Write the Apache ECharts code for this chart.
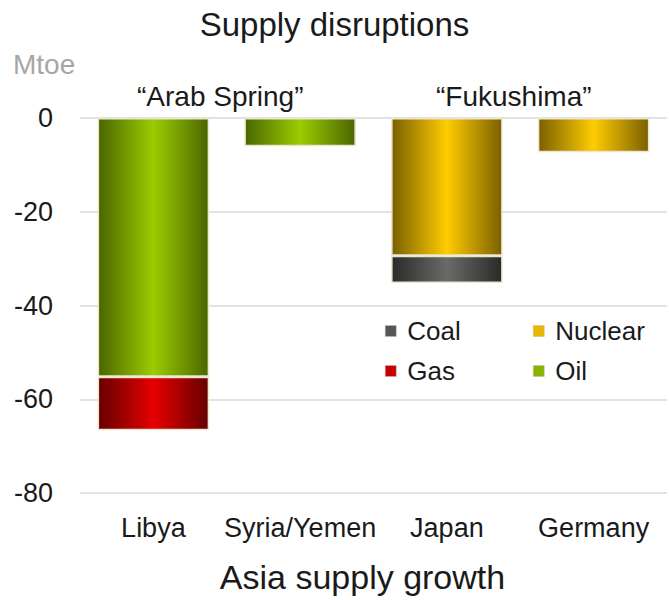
<!DOCTYPE html>
<html>
<head>
<meta charset="utf-8">
<style>
  html, body { margin: 0; padding: 0; background: #fff; }
  #chart { width: 669px; height: 600px; }
</style>
<script src="https://cdn.jsdelivr.net/npm/echarts@6/dist/echarts.min.js"></script>
</head>
<body>
<div id="chart"></div>
<script>
(function () {
  var font = '"Liberation Sans", Arial, sans-serif';
  var ink = '#1a1a1a';
  var rule = '#d9d9d9';

  var categories = ['Libya', 'Syria/Yemen', 'Japan', 'Germany'];
  var oil = [-55.2, -6, null, null];
  var nuclear = [null, null, -29.4, -7.3];
  var gas = [-11.4, null, null, null];
  var coal = [null, null, -5.8, null];
  var yTicks = [-80, -60, -40, -20, 0];

  // horizontal gradient: dark edges, bright middle
  function shade(edge, mid) {
    return new echarts.graphic.LinearGradient(0, 0, 1, 0, [
      { offset: 0, color: edge },
      { offset: 0.5, color: mid },
      { offset: 1, color: edge }
    ]);
  }

  function bar(name, data, edge, mid) {
    return {
      name: name,
      type: 'bar',
      stack: 'total',
      data: data,
      barWidth: '76%',
      itemStyle: { color: shade(edge, mid), borderColor: '#ece6cf', borderWidth: 1.5 }
    };
  }

  function key(name, color) {
    return { name: name, itemStyle: { color: color, borderColor: '#bbb', borderWidth: 0.5 } };
  }

  var legendText = { color: ink, fontSize: 26, fontFamily: font, padding: [0, 0, 0, 6] };

  var chart = echarts.init(document.getElementById('chart'), null, { renderer: 'svg' });
  chart.setOption({
    animation: false,
    title: {
      text: 'Supply disruptions',
      left: 'center',
      top: 3,
      textStyle: { color: ink, fontSize: 33, fontWeight: 'normal', fontFamily: font }
    },
    legend: [
      {
        data: [key('Coal', '#555555'), key('Gas', '#c80000')],
        orient: 'vertical',
        left: 380, top: 313,
        itemWidth: 11, itemHeight: 11, itemGap: 14,
        icon: 'rect',
        textStyle: legendText
      },
      {
        data: [key('Nuclear', '#e8b800'), key('Oil', '#86b400')],
        orient: 'vertical',
        left: 528, top: 313,
        itemWidth: 11, itemHeight: 11, itemGap: 14,
        icon: 'rect',
        textStyle: legendText
      }
    ],
    grid: { left: 80, right: 2, top: 118, bottom: 107 },
    xAxis: {
      type: 'category',
      data: categories,
      axisLine: { show: false },
      axisTick: { show: false },
      axisLabel: { color: ink, fontSize: 27, fontFamily: font, margin: 21, interval: 0 },
      name: 'Asia supply growth',
      nameLocation: 'middle',
      nameGap: 67,
      nameTextStyle: { color: ink, fontSize: 34, fontFamily: font, padding: [0, 22, 0, 0] }
    },
    yAxis: {
      type: 'value',
      min: -80, max: 0, interval: 20,
      axisLine: { show: false },
      axisTick: { show: false },
      axisLabel: {
        color: ink, fontSize: 27, fontFamily: font, margin: 27,
        formatter: function (v) { return yTicks.indexOf(v) >= 0 ? String(v) : ''; }
      },
      splitLine: { lineStyle: { color: rule, width: 1.5 } }
    },
    series: [
      bar('Oil', oil, '#4a6600', '#9ccc00'),
      bar('Nuclear', nuclear, '#7a6000', '#ffcc00'),
      bar('Gas', gas, '#660000', '#e60000'),
      bar('Coal', coal, '#2a2a2a', '#6a6a6a')
    ],
    graphic: [
      { type: 'text', left: 13, top: 50, style: { text: 'Mtoe', fill: '#a6a6a6', fontSize: 28, fontFamily: font } },
      { type: 'text', left: 137, top: 82, style: { text: '\u201cArab Spring\u201d', fill: ink, fontSize: 28, fontFamily: font } },
      { type: 'text', left: 436, top: 82, style: { text: '\u201cFukushima\u201d', fill: ink, fontSize: 28, fontFamily: font } }
    ]
  });
  window.addEventListener('resize', function () { chart.resize(); });
})();
</script>
</body>
</html>
